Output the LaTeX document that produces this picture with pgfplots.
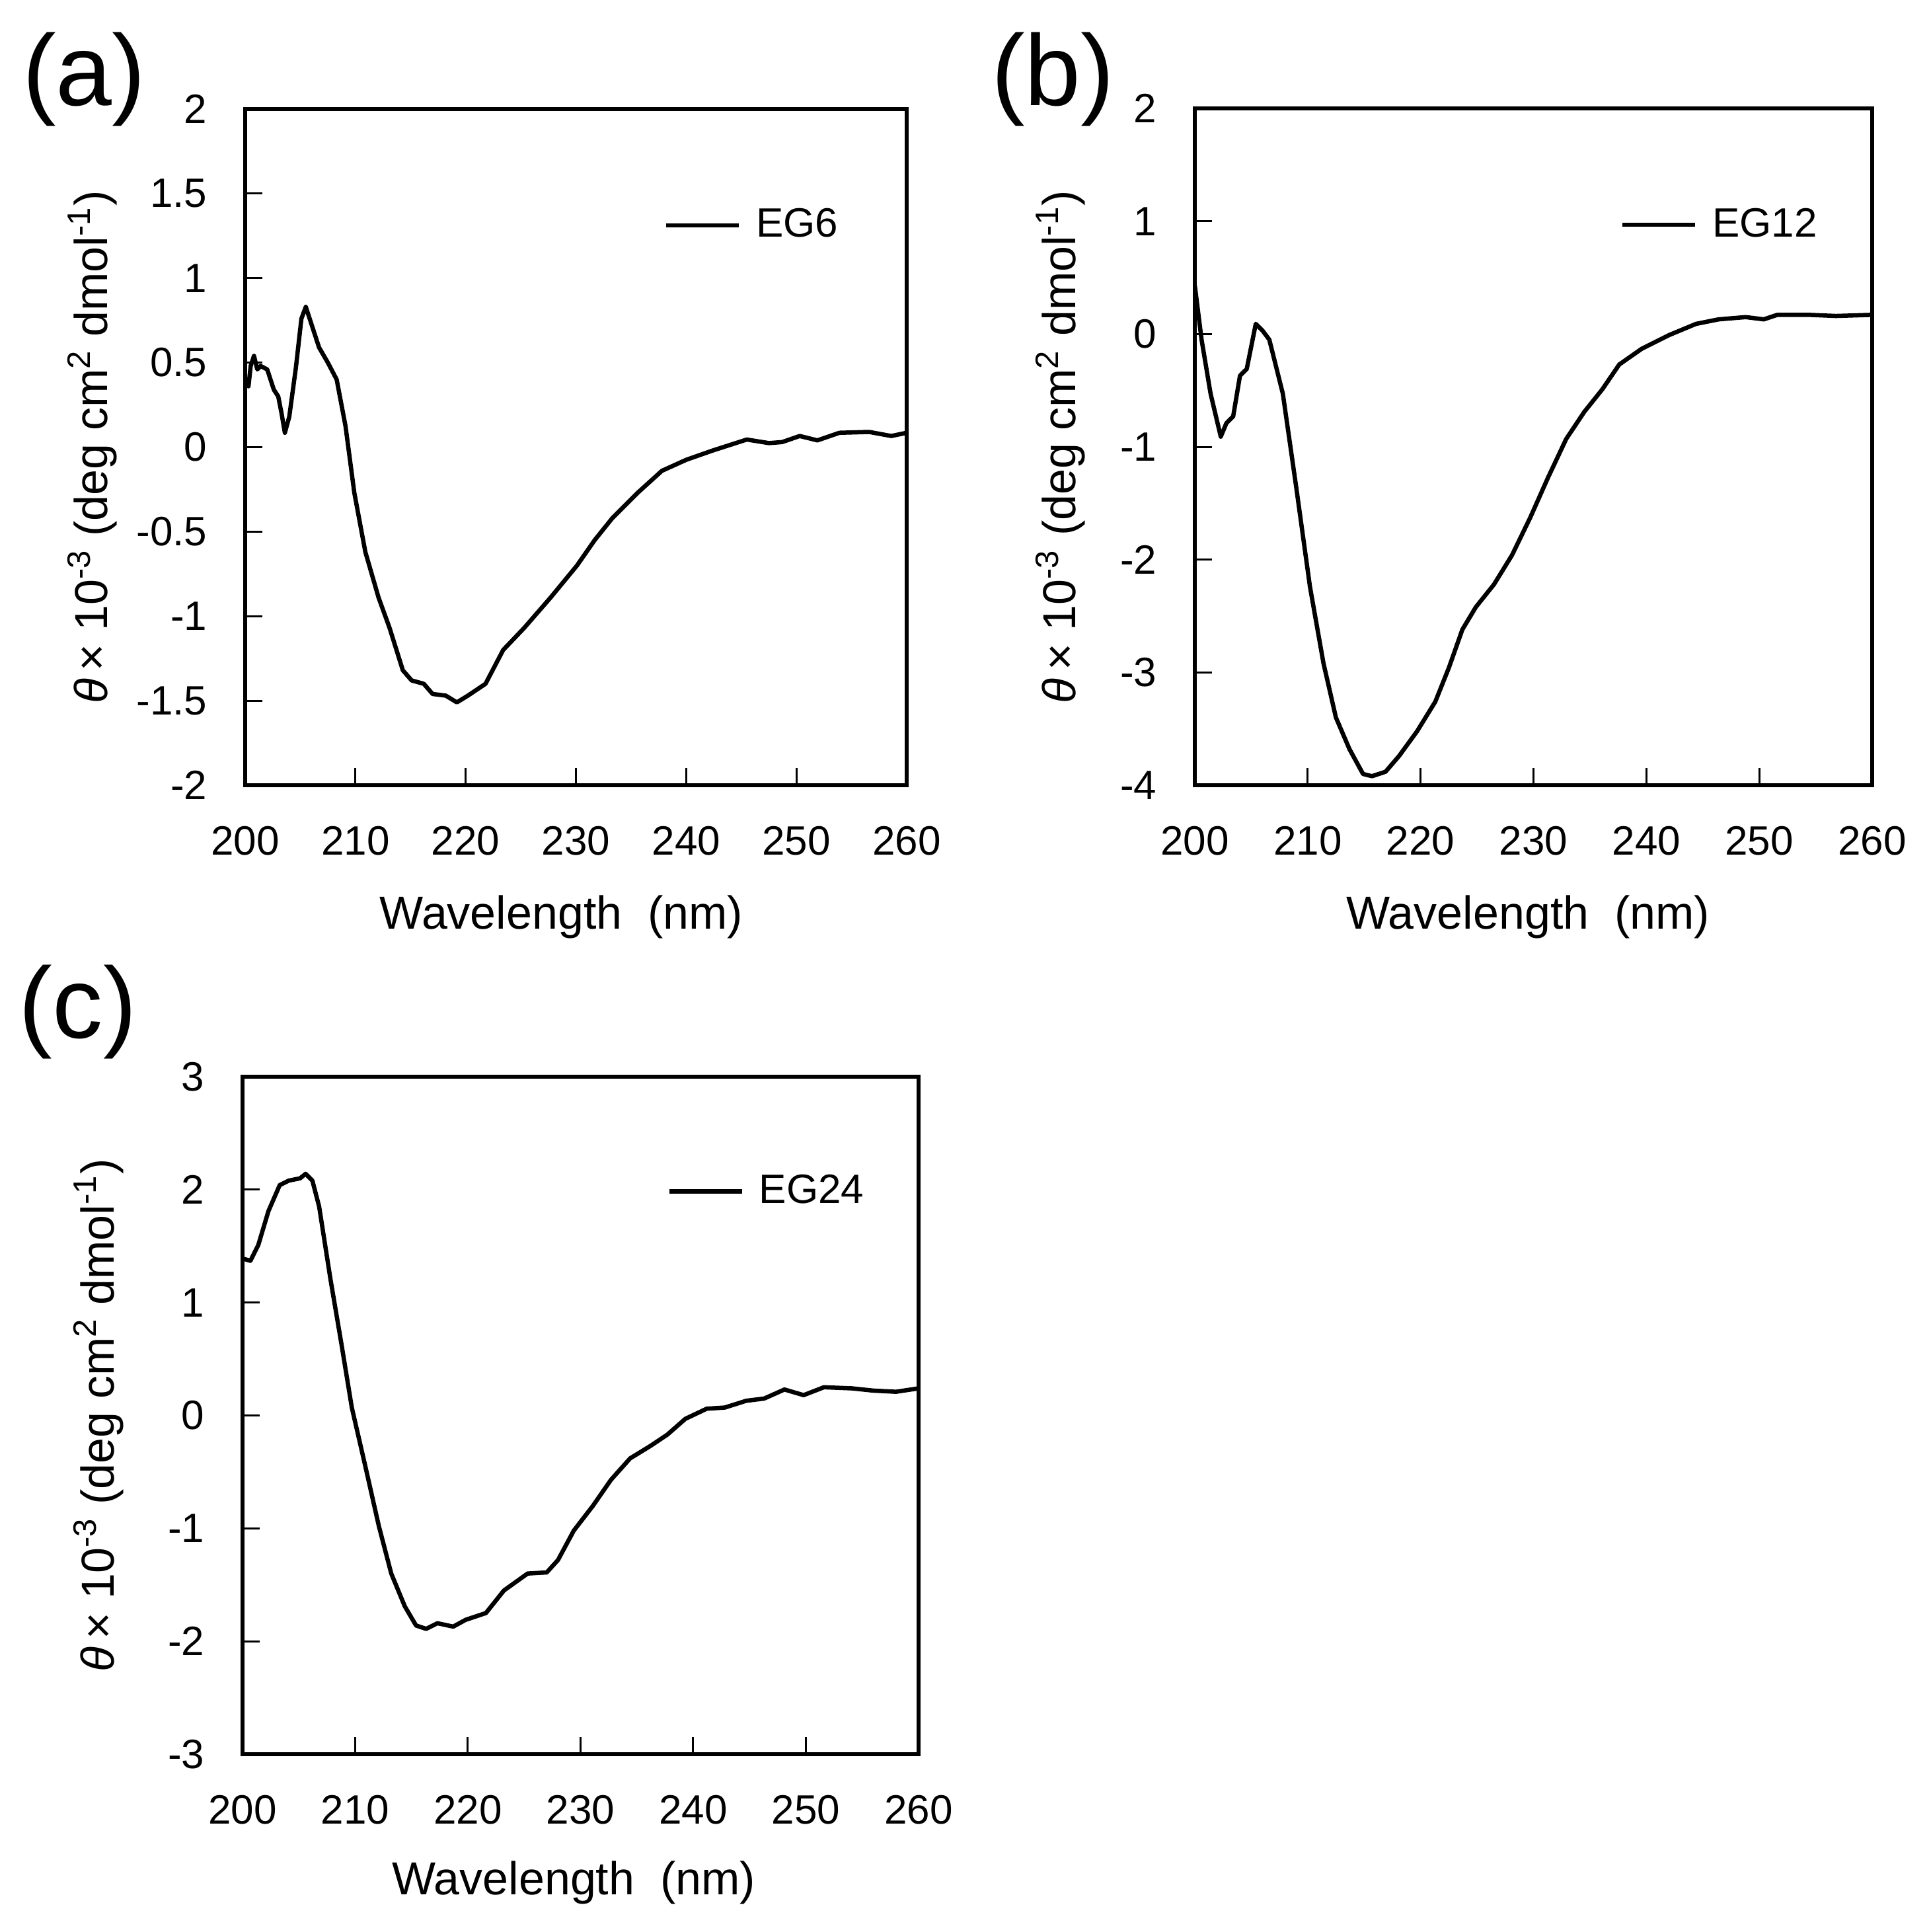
\documentclass[border=0pt]{standalone}
\usepackage{fontspec}
\setmainfont{Liberation Sans}
\usepackage{pgfplots}
\pgfplotsset{compat=1.18}

\pgfplotstableread{
x y
200.0 0.40
200.3 0.36
200.5 0.48
200.8 0.54
201.1 0.46
201.4 0.48
202.0 0.46
202.6 0.34
203.0 0.30
203.3 0.20
203.6 0.085
204.0 0.18
204.6 0.47
205.1 0.76
205.5 0.83
206.1 0.71
206.7 0.59
207.5 0.50
208.3 0.40
209.1 0.125
209.9 -0.27
210.9 -0.62
212.1 -0.89
213.1 -1.07
214.3 -1.32
215.1 -1.38
216.2 -1.40
217.0 -1.46
218.2 -1.47
219.2 -1.51
220.2 -1.47
221.8 -1.40
223.4 -1.20
225.3 -1.07
227.7 -0.89
230.1 -0.70
231.7 -0.55
233.3 -0.42
235.6 -0.27
237.8 -0.14
240.0 -0.075
242.4 -0.02
245.5 0.045
247.5 0.024
248.7 0.03
250.3 0.066
251.9 0.04
253.9 0.085
256.6 0.09
258.6 0.066
260.0 0.085
}\dataA

\pgfplotstableread{
x y
200.0 0.43
200.6 -0.05
201.4 -0.53
202.3 -0.91
202.8 -0.79
203.4 -0.73
204.0 -0.37
204.6 -0.31
205.4 0.09
206.0 0.03
206.6 -0.05
207.8 -0.53
209.0 -1.37
210.2 -2.24
211.4 -2.92
212.5 -3.40
213.7 -3.68
214.9 -3.90
215.7 -3.92
216.9 -3.88
218.1 -3.74
219.7 -3.52
221.3 -3.26
222.5 -2.96
223.7 -2.62
224.9 -2.42
226.5 -2.22
228.1 -1.96
229.7 -1.63
231.3 -1.27
232.9 -0.93
234.5 -0.69
236.1 -0.49
237.6 -0.27
239.6 -0.13
242.0 -0.01
244.4 0.09
246.4 0.13
248.8 0.15
250.4 0.13
251.6 0.17
254.4 0.17
256.8 0.16
260.0 0.17
}\dataB

\pgfplotstableread{
x y
200.0 1.39
200.7 1.37
201.4 1.51
202.3 1.81
203.3 2.04
204.1 2.08
205.1 2.10
205.6 2.14
206.2 2.08
206.8 1.85
207.8 1.21
208.8 0.62
209.7 0.07
210.9 -0.45
212.1 -0.98
213.2 -1.40
214.4 -1.69
215.4 -1.86
216.3 -1.89
217.3 -1.84
218.7 -1.87
219.8 -1.81
221.6 -1.75
223.2 -1.55
225.3 -1.40
227.0 -1.39
228.0 -1.28
229.4 -1.02
231.1 -0.80
232.7 -0.57
234.4 -0.38
236.2 -0.27
237.7 -0.17
239.3 -0.03
241.2 0.06
242.8 0.07
244.7 0.13
246.3 0.15
248.1 0.23
249.8 0.18
251.6 0.25
254.1 0.24
256.0 0.22
258.0 0.21
260.0 0.24
}\dataC

\pgfplotsset{
  cdstyle/.style={
    scale only axis,
    xmin=200, xmax=260,
    xtick={200,210,...,260},
    tick align=inside,
    xtick pos=left, ytick pos=left,
    major tick length=5.2pt,
    tick style={line width=0.6pt, black},
    axis line style={line width=1.3pt, line cap=rect},
    ticklabel style={font=\fontsize{12.4}{14}\selectfont},
    /pgf/number format/assume math mode=true,
    /pgf/number format/fixed,
    xticklabel style={yshift=-9pt},
    yticklabel style={xshift=-8pt},
    label style={font=\fontsize{14}{16}\selectfont},
    xlabel={Wavelength\ \ (nm)},
    ylabel={\textit{θ}\,× 10\textsuperscript{-3} (deg cm\textsuperscript{2} dmol\textsuperscript{-1})},
    legend style={draw=none, fill=none, font=\fontsize{12.4}{14}\selectfont, inner sep=0pt, anchor=west},
    legend image code/.code={\draw[#1] (0pt,0pt) -- (22pt,0pt); \path (24.6pt,0pt);},
  }
}

\begin{document}
\begin{tikzpicture}
\useasboundingbox (0,0) rectangle (583.8pt,-584.6pt);

% (a)
\begin{axis}[cdstyle,
  at={(74.2pt,-33pt)}, anchor=north west,
  width=200.2pt, height=204.6pt,
  ymin=-2, ymax=2, ytick={-2,-1.5,...,2},
  xlabel style={at={(axis description cs:0.478,0)}, anchor=center, yshift=-39.8pt},
  ylabel style={at={(axis description cs:-0.231,0.5)}, anchor=center, rotate=0},
  legend style={at={(axis description cs:0.632,0.828)}},
]
\addplot[black, no marks, line width=1.3pt, line join=round] table[x=x,y=y] {\dataA};
\addlegendentry{EG6}
\end{axis}
\node[anchor=base west, font=\fontsize{30.5}{34}\selectfont, inner sep=0pt] at (6.6pt,-31.8pt) {(a)};

% (b)
\begin{axis}[cdstyle,
  at={(361.6pt,-32.8pt)}, anchor=north west,
  width=205pt, height=204.8pt,
  ymin=-4, ymax=2, ytick={-4,-3,...,2},
  xlabel style={at={(axis description cs:0.492,0)}, anchor=center, yshift=-39.8pt},
  ylabel style={at={(axis description cs:-0.198,0.5)}, anchor=center, rotate=0},
  legend style={at={(axis description cs:0.627,0.828)}},
]
\addplot[black, no marks, line width=1.3pt, line join=round] table[x=x,y=y] {\dataB};
\addlegendentry{EG12}
\end{axis}
\node[anchor=base west, font=\fontsize{30.5}{34}\selectfont, inner sep=0pt] at (299.8pt,-31.8pt) {(b)};

% (c)
\begin{axis}[cdstyle,
  at={(73.4pt,-325.8pt)}, anchor=north west,
  width=204.6pt, height=205pt,
  ymin=-3, ymax=3, ytick={-3,-2,...,3},
  xlabel style={at={(axis description cs:0.49,0)}, anchor=center, yshift=-38.8pt},
  ylabel style={at={(axis description cs:-0.213,0.5)}, anchor=center, rotate=0},
  legend style={at={(axis description cs:0.627,0.831)}},
]
\addplot[black, no marks, line width=1.3pt, line join=round] table[x=x,y=y] {\dataC};
\addlegendentry{EG24}
\end{axis}
\node[anchor=base west, font=\fontsize{30.5}{34}\selectfont, inner sep=0pt] at (5.6pt,-314pt) {(c)};
\end{tikzpicture}
\end{document}
